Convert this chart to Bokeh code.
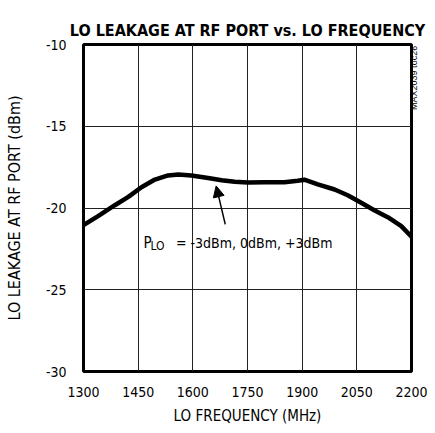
import math
from bokeh.plotting import figure
from bokeh.models import (Range1d, FixedTicker, Label, Arrow, NormalHead,
                          LinearAxis)
from bokeh.embed import file_html
from bokeh.resources import INLINE

# ---- data ----
freq_mhz = [1300, 1340, 1386, 1423, 1459, 1496, 1532, 1560, 1596, 1642, 1679,
            1715, 1750, 1797, 1851, 1888, 1906, 1943, 1989, 2025, 2062, 2099,
            2135, 2172, 2200]
leak_dbm = [-21.05, -20.50, -19.83, -19.32, -18.73, -18.26, -18.01, -17.95,
            -18.01, -18.16, -18.30, -18.40, -18.44, -18.42, -18.42, -18.33,
            -18.27, -18.56, -18.87, -19.22, -19.68, -20.15, -20.56, -21.11,
            -21.75]
x_ticks = [1300, 1450, 1600, 1750, 1900, 2050, 2200]
y_ticks = [-30, -25, -20, -15, -10]

TITLE = "LO LEAKAGE AT RF PORT vs. LO FREQUENCY"
XLABEL = "LO FREQUENCY (MHz)"
YLABEL = "LO LEAKAGE AT RF PORT (dBm)"
NOTE_P = "P"
NOTE_SUB = "LO"
NOTE_REST = "= -3dBm, 0dBm, +3dBm"
TOC = "MAX2039 toc26"
TOC_AT = -14

FONT = "DejaVu Sans Condensed"

p = figure(frame_width=328, frame_height=327, output_backend="svg",
           toolbar_location=None,
           x_range=Range1d(1300, 2200), y_range=Range1d(-30, -10),
           min_border_left=83, min_border_right=16, min_border_top=44,
           min_border_bottom=57)

p.title.text = TITLE
p.title.text_font = FONT
p.title.text_font_style = "bold"
p.title.text_font_size = "16px"
p.title.align = "center"
p.title.text_color = "black"

p.outline_line_color = "black"
p.outline_line_width = 3
p.outline_line_alpha = 1

for ax in (p.xaxis[0], p.yaxis[0]):
    ax.axis_line_color = None
    ax.major_tick_line_color = None
    ax.minor_tick_line_color = None
    ax.major_tick_out = 0
    ax.major_tick_in = 0
    ax.major_label_text_font = FONT
    ax.major_label_text_font_size = "14px"
    ax.major_label_text_color = "black"
    ax.axis_label_text_font = FONT
    ax.axis_label_text_font_style = "normal"
    ax.axis_label_text_color = "black"

p.xaxis.ticker = FixedTicker(ticks=x_ticks)
p.yaxis.ticker = FixedTicker(ticks=y_ticks)
p.yaxis.major_label_overrides = {t: str(t) for t in y_ticks}
p.xaxis.major_label_standoff = 15
p.yaxis.major_label_standoff = 17
p.xaxis.axis_label = XLABEL
p.yaxis.axis_label = YLABEL
p.xaxis.axis_label_text_font_size = "15px"
p.yaxis.axis_label_text_font_size = "16px"
p.xaxis.axis_label_standoff = 7
p.yaxis.axis_label_standoff = 19

# small figure id on the right side, read bottom-to-top
toc_axis = LinearAxis(ticker=FixedTicker(ticks=[TOC_AT]),
                      major_label_overrides={TOC_AT: TOC})
toc_axis.axis_line_color = None
toc_axis.major_tick_line_color = None
toc_axis.minor_tick_line_color = None
toc_axis.major_tick_out = 0
toc_axis.major_tick_in = 0
toc_axis.major_label_orientation = math.pi / 2
toc_axis.major_label_standoff = 3
toc_axis.major_label_text_font = "Liberation Sans"
toc_axis.major_label_text_font_size = "9px"
toc_axis.major_label_text_color = "black"
p.add_layout(toc_axis, "right")

p.xgrid.ticker = FixedTicker(ticks=x_ticks)
p.ygrid.ticker = FixedTicker(ticks=y_ticks)
p.grid.grid_line_color = "#222222"
p.grid.grid_line_width = 1
p.grid.grid_line_alpha = 1

p.line(freq_mhz, leak_dbm, line_color="black", line_width=4.5,
       line_join="round", line_cap="round")

p.add_layout(Arrow(x_start=1689, y_start=-21.0, x_end=1664, y_end=-18.65,
                   line_width=1.5, line_color="black",
                   end=NormalHead(size=11, fill_color="black",
                                  line_color="black", line_width=1)))

p.add_layout(Label(x=1464.6, y=-22.13, text=NOTE_P, text_font=FONT,
                   text_font_size="15px", text_baseline="alphabetic",
                   text_color="black"))
p.add_layout(Label(x=1483.8, y=-22.34, text=NOTE_SUB, text_font=FONT,
                   text_font_size="12px", text_baseline="alphabetic",
                   text_color="black"))
p.add_layout(Label(x=1553.8, y=-22.13, text=NOTE_REST, text_font=FONT,
                   text_font_size="14px", text_baseline="alphabetic",
                   text_color="black"))

open("out.html", "w").write(file_html(p, INLINE))
